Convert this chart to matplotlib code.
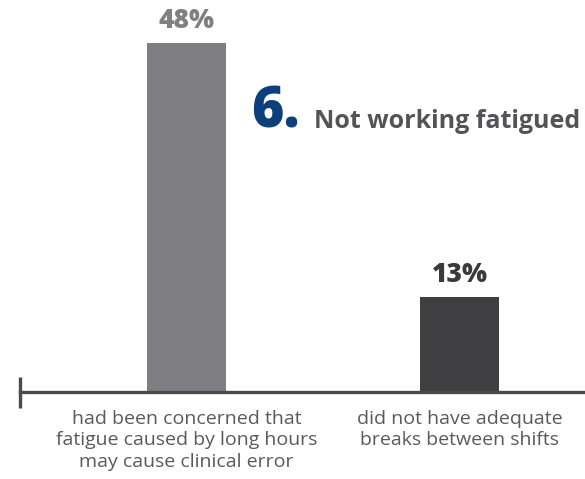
import matplotlib
matplotlib.use("Agg")
import matplotlib.pyplot as plt

# ---------------------------------------------------------------------------
# Data
# ---------------------------------------------------------------------------
categories = [
    "had been concerned that\nfatigue caused by long hours\nmay cause clinical error",
    "did not have adequate\nbreaks between shifts",
]
values = [48, 13]
value_labels = ["48%", "13%"]
bar_colors = ["#7f7f83", "#3f3f41"]
label_colors = ["#808083", "#3a3a3c"]

plt.rcParams["font.family"] = ["Open Sans", "DejaVu Sans"]

W, H = 585, 479
fig = plt.figure(figsize=(W / 100, H / 100), dpi=100)

# axes spans from the axis line (y=392 px) up to the top of the figure
base_px = 392
ax = fig.add_axes([20 / W, (H - base_px) / H, 1 - 20 / W, base_px / H])

px_per_unit = 7.28
ax.set_ylim(0, base_px / px_per_unit)
spacing = 273.0
ax.set_xlim(-(186.5 - 20) / spacing, 1 + (585 - 459.5) / spacing)

xs = list(range(len(values)))
ax.bar(xs, values, width=79 / spacing, color=bar_colors, zorder=2)

for x, v, lab, c in zip(xs, values, value_labels, label_colors):
    ax.text(x, v + 22 / px_per_unit, lab, ha="center", va="center",
            fontsize=19, fontweight="heavy", color=c)

for x, cat in zip(xs, categories):
    ax.text(x, -18 / px_per_unit, cat, ha="center", va="top",
            fontsize=14, color="#5a5a5c", linespacing=1.24)

# axis line with end tick
for s in ["top", "right", "left"]:
    ax.spines[s].set_visible(False)
ax.spines["bottom"].set_linewidth(2.4)
ax.spines["bottom"].set_color("#4a4a4a")
ax.set_xticks([])
ax.set_yticks([])
x0 = ax.get_xlim()[0]
ax.plot([x0, x0], [-16 / px_per_unit, 15 / px_per_unit], color="#4a4a4a",
        linewidth=2.4, clip_on=False, solid_capstyle="butt")

# heading
fig.text(251 / W, 1 - 113 / H, "6.", fontsize=40, fontweight="heavy",
         color="#0d3f7a", va="center", ha="left")
fig.text(314 / W, 1 - 121 / H, "Not working fatigued", fontsize=18,
         fontweight="bold", color="#545456", va="center", ha="left")

fig.savefig("out.png", dpi=100)
